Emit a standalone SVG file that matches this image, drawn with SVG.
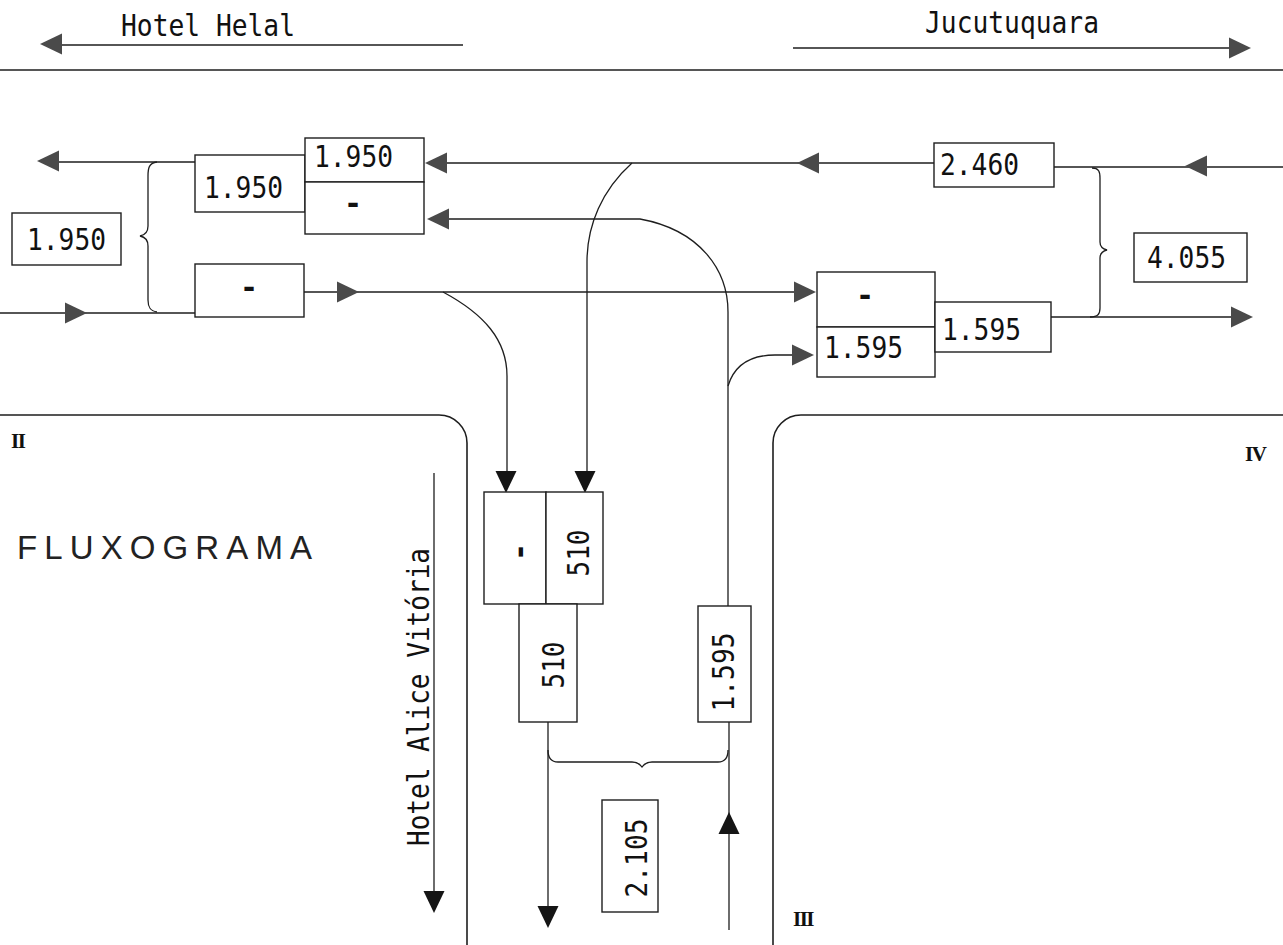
<svg xmlns="http://www.w3.org/2000/svg" xmlns:xlink="http://www.w3.org/1999/xlink" width="1283" height="945" viewBox="0 0 1283 945">
<style>
  .bg{fill:#ffffff}
  .ln{fill:none;stroke:#1e1e1e;stroke-width:1.3}
  .curb{fill:none;stroke:#1e1e1e;stroke-width:1.6}
  .box{fill:#ffffff;stroke:#1e1e1e;stroke-width:1.4}
  .t{font-family:"DejaVu Sans Mono","Liberation Mono",monospace;font-size:30px;fill:#111}
  .dash{font-family:"DejaVu Sans Mono","Liberation Mono",monospace;font-size:30px;font-weight:bold;fill:#111}
  .title{font-family:"Liberation Sans",Arial,sans-serif;font-size:33px;fill:#222}
  .rn{font-family:"Liberation Serif","DejaVu Serif",serif;font-size:21px;font-weight:bold;fill:#111;letter-spacing:-1.5px}
  .ah{fill:#4a4a4a}
  .ahd{fill:#151515}
</style>
<defs>
  <path id="ar" d="M0,0 L-22,-10.5 L-22,10.5 Z"/>
</defs>
<rect class="bg" x="0" y="0" width="1283" height="945"/>

<g id="roads">
  <path class="curb" d="M0,70 H1283"/>
  <path class="curb" d="M0,415 H439 A28,28 0 0 1 467,443 V945"/>
  <path class="curb" d="M1283,415 H801 A28,28 0 0 0 773,443 V945"/>
</g>

<g id="connectors">
  <path class="ln" d="M60,45 H463"/>
  <path class="ln" d="M793,48 H1230"/>
  <path class="ln" d="M58,162 H195"/>
  <path class="ln" d="M0,313 H195"/>
  <path class="ln" d="M304,292 H795"/>
  <path class="ln" d="M445,163 H934"/>
  <path class="ln" d="M1054,167 H1283"/>
  <path class="ln" d="M1051,317 H1232"/>
  <path class="ln" d="M632,163 C602,190 587,225 587,262 V472"/>
  <path class="ln" d="M443,292 C484,314 507,340 507,376 V472"/>
  <path class="ln" d="M445,219 H640 C700,230 728,270 728,312 V606"/>
  <path class="ln" d="M728,386 C734,366 750,355 775,355 H793"/>
  <path class="ln" d="M434,473 V893"/>
  <path class="ln" d="M548,722 V908"/>
  <path class="ln" d="M729,722 V930"/>
  <path class="ln" d="M157,162 C149,163 148,168 148,176 V226 C148,232 145,235 140,236 C145,237 148,240 148,246 V300 C148,307 150,311 157,312"/>
  <path class="ln" d="M1092,168 C1099,168 1100,172 1100,178 V242 C1100,247 1103,249 1107,250 C1103,251 1100,253 1100,258 V308 C1100,314 1098,317 1090,317"/>
  <path class="ln" d="M548,750 C548,758 551,762 558,762 H632 C637,762 640,764 642,767 C644,764 647,762 652,762 H718 C725,762 728,758 728,750"/>
  <use xlink:href="#ar" class="ah" transform="translate(40,44) rotate(180)"/>
  <use xlink:href="#ar" class="ah" transform="translate(1251,48)"/>
  <use xlink:href="#ar" class="ah" transform="translate(37,161) rotate(180)"/>
  <use xlink:href="#ar" class="ah" transform="translate(87,313)"/>
  <use xlink:href="#ar" class="ah" transform="translate(359,292)"/>
  <use xlink:href="#ar" class="ah" transform="translate(425,163) rotate(180)"/>
  <use xlink:href="#ar" class="ah" transform="translate(427,219) rotate(180)"/>
  <use xlink:href="#ar" class="ah" transform="translate(797,163) rotate(180)"/>
  <use xlink:href="#ar" class="ah" transform="translate(1185,166) rotate(180)"/>
  <use xlink:href="#ar" class="ah" transform="translate(816,292)"/>
  <use xlink:href="#ar" class="ah" transform="translate(814,355)"/>
  <use xlink:href="#ar" class="ah" transform="translate(1253,317)"/>
  <use xlink:href="#ar" class="ahd" transform="translate(506,493) rotate(90)"/>
  <use xlink:href="#ar" class="ahd" transform="translate(585,493) rotate(90)"/>
  <use xlink:href="#ar" class="ahd" transform="translate(434,913) rotate(90)"/>
  <use xlink:href="#ar" class="ahd" transform="translate(548,928) rotate(90)"/>
  <use xlink:href="#ar" class="ahd" transform="translate(729,812) rotate(-90)"/>
</g>

<g id="label-hotel-helal"><text class="t" x="121" y="36" textLength="174" lengthAdjust="spacingAndGlyphs">Hotel Helal</text></g>
<g id="label-jucutuquara"><text class="t" x="925" y="33" textLength="174" lengthAdjust="spacingAndGlyphs">Jucutuquara</text></g>
<g id="label-fluxograma"><text class="title" x="17" y="559" textLength="295" lengthAdjust="spacing">FLUXOGRAMA</text></g>
<g id="label-alice"><text class="t" transform="translate(429,846) rotate(-90)" x="0" y="0" textLength="298" lengthAdjust="spacingAndGlyphs">Hotel Alice Vitória</text></g>
<g id="label-II"><text class="rn" x="11" y="448">II</text></g>
<g id="label-IV"><text class="rn" x="1245" y="461">IV</text></g>
<g id="label-III"><text class="rn" x="793" y="926">III</text></g>

<g id="node-west-total">
  <rect class="box" x="12" y="213" width="109" height="52"/>
  <text class="t" x="27" y="250" textLength="79" lengthAdjust="spacingAndGlyphs">1.950</text>
</g>
<g id="node-west-out">
  <rect class="box" x="195" y="155" width="110" height="57"/>
  <text class="t" x="204" y="198" textLength="79" lengthAdjust="spacingAndGlyphs">1.950</text>
</g>
<g id="node-west-from-east">
  <rect class="box" x="305" y="138" width="119" height="44"/>
  <text class="t" x="314" y="167" textLength="79" lengthAdjust="spacingAndGlyphs">1.950</text>
</g>
<g id="node-west-from-south">
  <rect class="box" x="305" y="182" width="119" height="52"/>
  <text class="dash" x="353" y="214" text-anchor="middle">-</text>
</g>
<g id="node-west-in">
  <rect class="box" x="195" y="264" width="109" height="53"/>
  <text class="dash" x="249" y="298" text-anchor="middle">-</text>
</g>
<g id="node-east-in">
  <rect class="box" x="934" y="143" width="120" height="44"/>
  <text class="t" x="940" y="175" textLength="79" lengthAdjust="spacingAndGlyphs">2.460</text>
</g>
<g id="node-east-total">
  <rect class="box" x="1134" y="233" width="113" height="49"/>
  <text class="t" x="1147" y="268" textLength="79" lengthAdjust="spacingAndGlyphs">4.055</text>
</g>
<g id="node-east-from-west">
  <rect class="box" x="817" y="272" width="118" height="55"/>
  <text class="dash" x="865" y="306" text-anchor="middle">-</text>
</g>
<g id="node-east-from-south">
  <rect class="box" x="817" y="327" width="118" height="50"/>
  <text class="t" x="824" y="358" textLength="79" lengthAdjust="spacingAndGlyphs">1.595</text>
</g>
<g id="node-east-out">
  <rect class="box" x="935" y="302" width="116" height="50"/>
  <text class="t" x="942" y="340" textLength="79" lengthAdjust="spacingAndGlyphs">1.595</text>
</g>
<g id="node-south-from-west">
  <rect class="box" x="484" y="492" width="62" height="112"/>
  <text class="dash" transform="translate(522,552) rotate(-90)" x="0" y="8" text-anchor="middle">-</text>
</g>
<g id="node-south-from-east">
  <rect class="box" x="546" y="492" width="57" height="112"/>
  <text class="t" transform="translate(578,553) rotate(-90)" x="-23.5" y="11" textLength="47" lengthAdjust="spacingAndGlyphs">510</text>
</g>
<g id="node-south-out">
  <rect class="box" x="519" y="604" width="58" height="118"/>
  <text class="t" transform="translate(553,665) rotate(-90)" x="-23.5" y="11" textLength="47" lengthAdjust="spacingAndGlyphs">510</text>
</g>
<g id="node-south-in">
  <rect class="box" x="698" y="606" width="53" height="116"/>
  <text class="t" transform="translate(723,672) rotate(-90)" x="-39.5" y="11" textLength="79" lengthAdjust="spacingAndGlyphs">1.595</text>
</g>
<g id="node-south-total">
  <rect class="box" x="602" y="800" width="56" height="112"/>
  <text class="t" transform="translate(636,858) rotate(-90)" x="-39.5" y="11" textLength="79" lengthAdjust="spacingAndGlyphs">2.105</text>
</g>
</svg>
